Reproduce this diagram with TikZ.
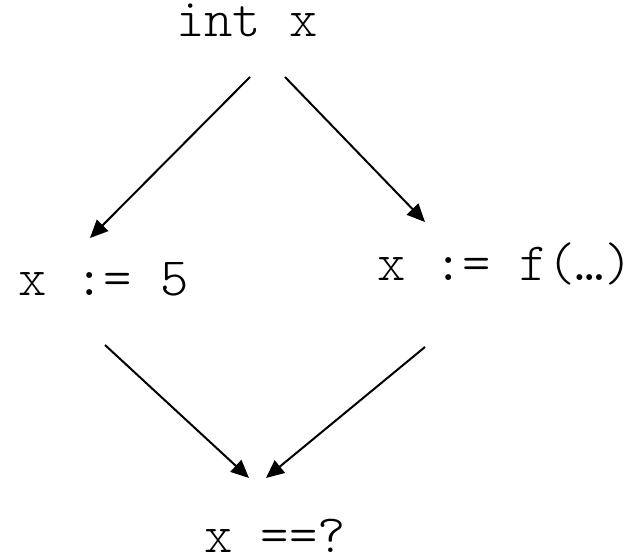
\documentclass[tikz,border=0pt]{standalone}
\usepackage{fontspec}
\setmonofont{Latin Modern Mono Light}
\usetikzlibrary{arrows.meta}
\begin{document}
\begin{tikzpicture}[
  x=1pt, y=-1pt,
  code/.style={font=\ttfamily\fontsize{54}{60}\selectfont, inner sep=0pt, anchor=base},
  flow/.style={-{Triangle[length=18pt, width=16pt]}, line width=2pt}
]
\useasboundingbox (0,0) rectangle (643,559);
\node[code] (decl) at (247,37) {int x};
\node[code] (asgn) at (104,295) {x := 5};
\node[code] (call) at (505,280) {x := f(…)};
\node[code] (test) at (275,552) {x ==?};
% arrow ends
\coordinate (d1) at (250,77);
\coordinate (d2) at (285,77);
\coordinate (l1) at (90,238);
\coordinate (r1) at (425,222);
\coordinate (l2) at (105,345);
\coordinate (r2) at (425,347);
\coordinate (t1) at (249,478);
\coordinate (t2) at (266,478);
\foreach \a/\b in {d1/l1, d2/r1, l2/t1, r2/t2}
  \draw[flow] (\a) -- (\b);
\end{tikzpicture}
\end{document}
